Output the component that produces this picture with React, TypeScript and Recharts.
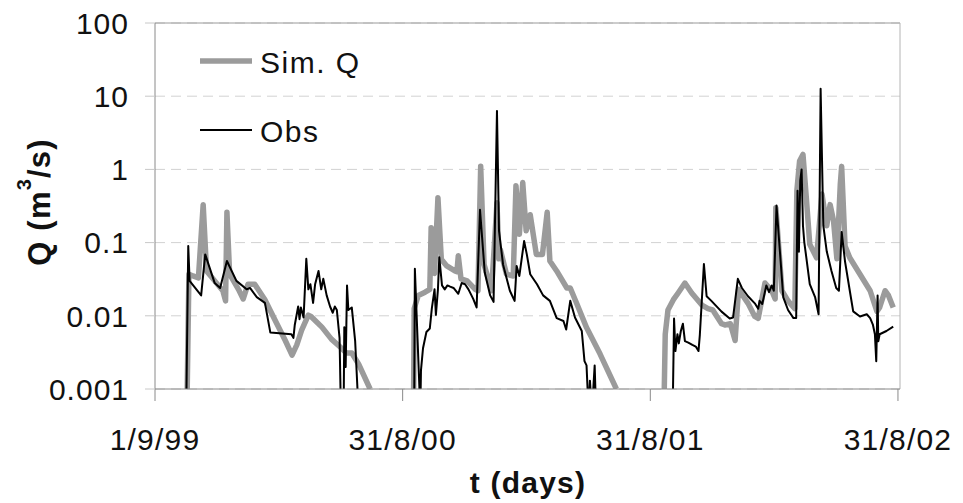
import { CartesianGrid, Legend, Line, LineChart, ReferenceLine, XAxis, YAxis } from "recharts";

const FONT = '"Liberation Sans", Arial, Helvetica, sans-serif';

// x is days since 1/9/99
const dateTicks = [0, 365, 730, 1095];
const dateLabels = ["1/9/99", "31/8/00", "31/8/01", "31/8/02"];
const qTicks = [0.001, 0.01, 0.1, 1, 10, 100];

// [day, Q m3/s]; values under 0.001 are dry spells that fall off the axis
const simSeason1: [number, number][] = [
  [47, 0.0005], [50, 0.037], [56, 0.035], [64, 0.033], [71, 0.33], [76, 0.041], [88, 0.03],
  [100, 0.022], [104, 0.016], [106, 0.26], [110, 0.037], [123, 0.023], [130, 0.017], [137, 0.027],
  [147, 0.027], [162, 0.0166], [177, 0.0087], [192, 0.0046], [202, 0.0029], [209, 0.004],
  [216, 0.0063], [226, 0.0102], [230, 0.0098], [246, 0.007], [260, 0.0048], [275, 0.0036],
  [282, 0.0031], [290, 0.0031], [300, 0.0022], [317, 0.001],
];
const simSeason2: [number, number][] = [
  [381, 0.0005], [382, 0.0126], [388, 0.019], [398, 0.021], [405, 0.023], [407, 0.16], [409, 0.04],
  [412, 0.038], [417, 0.41], [422, 0.059], [430, 0.048], [442, 0.041], [445, 0.04], [447, 0.066],
  [451, 0.032], [460, 0.03], [472, 0.023], [476, 0.022], [480, 1.1], [485, 0.05], [490, 0.035],
  [496, 0.022], [504, 0.35], [507, 0.06], [509, 0.08], [518, 0.037], [528, 0.035], [532, 0.6],
  [537, 0.13], [542, 0.66], [547, 0.145], [553, 0.24], [562, 0.069], [571, 0.069], [578, 0.26],
  [582, 0.056], [592, 0.041], [607, 0.024], [612, 0.024], [622, 0.0144], [636, 0.0069],
  [656, 0.003], [680, 0.001],
];
const simSeason3: [number, number][] = [
  [750, 0.0005], [752, 0.0056], [756, 0.012], [764, 0.0166], [771, 0.0205], [781, 0.028],
  [791, 0.0205], [806, 0.014], [815, 0.0125], [822, 0.012], [835, 0.0078], [840, 0.0075],
  [848, 0.0078], [855, 0.0046], [860, 0.023], [874, 0.0148], [884, 0.0098], [889, 0.0092],
  [899, 0.028], [909, 0.022], [914, 0.017], [915, 0.3], [924, 0.022], [933, 0.016],
  [943, 0.0125], [946, 0.51], [950, 1.3], [955, 1.6], [960, 0.4], [965, 0.095], [975, 0.062],
  [983, 0.46], [990, 0.17], [995, 0.33], [1000, 0.2], [1005, 0.06], [1010, 0.63], [1012, 1.1],
  [1017, 0.09], [1024, 0.062], [1039, 0.037], [1054, 0.022], [1064, 0.0115], [1068, 0.013],
  [1076, 0.022], [1081, 0.019], [1088, 0.013],
];

const obsSeason1: [number, number][] = [
  [46, 0.0005], [49, 0.09], [51, 0.03], [68, 0.019], [74, 0.069], [88, 0.028], [96, 0.024],
  [106, 0.056], [120, 0.03], [135, 0.023], [140, 0.024], [150, 0.018], [162, 0.015],
  [170, 0.0059], [201, 0.0056], [204, 0.005], [206, 0.0075], [211, 0.0134], [213, 0.009],
  [215, 0.013], [219, 0.0095], [223, 0.06], [226, 0.023], [229, 0.027], [233, 0.015],
  [236, 0.027], [241, 0.041], [245, 0.023], [248, 0.032], [253, 0.019], [258, 0.0134],
  [262, 0.011], [265, 0.0134], [268, 0.012], [272, 0.005], [274, 0.0005], [278, 0.0005],
  [279, 0.007], [281, 0.002], [283, 0.026], [285, 0.012], [290, 0.013], [295, 0.0045],
  [300, 0.0005],
];
const obsSeason2: [number, number][] = [
  [382, 0.0005], [383, 0.044], [391, 0.0005], [392, 0.0018], [395, 0.0036], [400, 0.006],
  [405, 0.0067], [408, 0.0126], [412, 0.023], [414, 0.0103], [417, 0.023], [419, 0.063],
  [423, 0.026], [427, 0.023], [431, 0.026], [435, 0.025], [440, 0.024], [447, 0.02],
  [452, 0.028], [457, 0.027], [462, 0.023], [469, 0.017], [474, 0.013], [479, 0.28],
  [486, 0.039], [494, 0.019], [499, 0.0155], [504, 6.3], [507, 0.145], [513, 0.05],
  [523, 0.022], [530, 0.016], [533, 0.048], [537, 0.035], [544, 0.105], [548, 0.069],
  [553, 0.037], [563, 0.027], [572, 0.019], [582, 0.016], [592, 0.0093], [602, 0.0085],
  [606, 0.0065], [612, 0.016], [619, 0.0095], [629, 0.0062], [633, 0.0024], [636, 0.0021],
  [639, 0.0005], [641, 0.0013], [644, 0.0005], [648, 0.0021], [650, 0.0005],
];
const obsSeason3: [number, number][] = [
  [763, 0.0005], [765, 0.0092], [767, 0.0033], [770, 0.0056], [772, 0.0042], [775, 0.0062],
  [778, 0.0078], [781, 0.0045], [786, 0.0043], [792, 0.004], [797, 0.0038], [801, 0.0033],
  [803, 0.0055], [809, 0.051], [813, 0.0185], [820, 0.016], [835, 0.0114], [847, 0.0092],
  [852, 0.0095], [859, 0.032], [865, 0.024], [874, 0.0185], [884, 0.0148], [889, 0.0125],
  [891, 0.016], [895, 0.0145], [901, 0.026], [905, 0.021], [909, 0.026], [912, 0.022],
  [916, 0.32], [926, 0.0178], [933, 0.012], [941, 0.0093], [945, 0.0093], [947, 0.51],
  [949, 0.075], [951, 0.7], [953, 1.0], [955, 0.17], [957, 0.1], [960, 0.062], [965, 0.027],
  [973, 0.0178], [978, 0.0105], [981, 12.6], [985, 0.17], [990, 0.076], [997, 0.041],
  [1004, 0.024], [1008, 0.022], [1012, 0.14], [1017, 0.055], [1024, 0.022], [1029, 0.0115],
  [1039, 0.0098], [1049, 0.0105], [1054, 0.0093], [1058, 0.0076], [1061, 0.0056],
  [1063, 0.0024], [1065, 0.019], [1066, 0.0045], [1068, 0.0056], [1078, 0.0062], [1088, 0.0071],
];

type Row = { day: number; q: number | null };

// join the seasons, with a null row between them so the line breaks
function joinSeasons(...seasons: [number, number][][]): Row[] {
  return seasons.flatMap((s, i) => [
    ...(i > 0 ? [{ day: s[0][0] - 1, q: null }] : []),
    ...s.map(([day, q]) => ({ day, q })),
  ]);
}

const simData = joinSeasons(simSeason1, simSeason2, simSeason3);
const obsData = joinSeasons(obsSeason1, obsSeason2, obsSeason3);

const seriesKeys = [
  { name: "Sim. Q", stroke: "#9b9b9b", width: 5.5 },
  { name: "Obs", stroke: "#000", width: 2 },
];

function XTick({ x, y, payload }: any) {
  return (
    <text x={x} y={y + 47} textAnchor="middle" fontSize={30} letterSpacing={1.2} fill="#111" fontFamily={FONT}>
      {dateLabels[dateTicks.indexOf(payload.value)]}
    </text>
  );
}

function YTick({ x, y, payload }: any) {
  return (
    <text x={x - 14} y={y} dy="0.36em" textAnchor="end" fontSize={30} letterSpacing={1} fill="#111" fontFamily={FONT}>
      {payload.value}
    </text>
  );
}

function QTitle() {
  return (
    <text transform="translate(50,202) rotate(-90)" textAnchor="middle" fontSize={31} fontWeight="bold" letterSpacing={1.2} fill="#111" fontFamily={FONT}>
      Q (m<tspan dy={-19} fontSize={20}>3</tspan>
      <tspan dy={19}>/s)</tspan>
    </text>
  );
}

function TTitle() {
  return (
    <text x={528} y={493} textAnchor="middle" fontSize={30} fontWeight="bold" letterSpacing={1.2} fill="#111" fontFamily={FONT}>
      t (days)
    </text>
  );
}

// legend rows in a fixed order, Sim. Q on top
function SeriesKey() {
  return (
    <svg width={200} height={115} style={{ display: "block" }}>
      {seriesKeys.map((k, i) => {
        const y = 21 + i * 69;
        return (
          <g key={k.name}>
            <line x1={0} x2={52} y1={y} y2={y} stroke={k.stroke} strokeWidth={k.width} />
            <text x={60} y={y + 12} fontSize={30} letterSpacing={1.5} fill="#111" fontFamily={FONT}>
              {k.name}
            </text>
          </g>
        );
      })}
    </svg>
  );
}

export default function App() {
  return (
    <div style={{ position: "absolute", left: 0, top: 0, width: 963, height: 503, background: "#fff", fontFamily: FONT }}>
      <LineChart width={963} height={503} margin={{ top: 23, right: 63, bottom: 0, left: 0 }}>
        <CartesianGrid vertical={false} stroke="#d2d2d2" strokeDasharray="10 6" />
        <XAxis
          dataKey="day"
          type="number"
          domain={[0, 1098]}
          ticks={dateTicks}
          height={114}
          tickSize={12}
          tick={<XTick />}
          stroke="#8a8a8a"
          label={<TTitle />}
        />
        <YAxis
          type="number"
          scale="log"
          domain={[0.001, 100]}
          allowDataOverflow
          ticks={qTicks}
          width={155}
          tickSize={10}
          tick={<YTick />}
          stroke="#8a8a8a"
          tickLine={{ stroke: "#c8c8c8" }}
          label={<QTitle />}
        />
        <ReferenceLine y={100} stroke="#9a9a9a" />
        <ReferenceLine x={1098} stroke="#b4b4b4" />
        <Legend
          layout="vertical"
          align="center"
          verticalAlign="middle"
          content={<SeriesKey />}
          wrapperStyle={{ left: 200, top: 40, width: 200, height: 115 }}
        />
        <Line
          name={seriesKeys[0].name}
          data={simData}
          dataKey="q"
          stroke={seriesKeys[0].stroke}
          strokeWidth={seriesKeys[0].width}
          dot={false}
          strokeLinejoin="round"
          isAnimationActive={false}
        />
        <Line
          name={seriesKeys[1].name}
          data={obsData}
          dataKey="q"
          stroke={seriesKeys[1].stroke}
          strokeWidth={seriesKeys[1].width}
          dot={false}
          strokeLinejoin="round"
          isAnimationActive={false}
        />
      </LineChart>
    </div>
  );
}
